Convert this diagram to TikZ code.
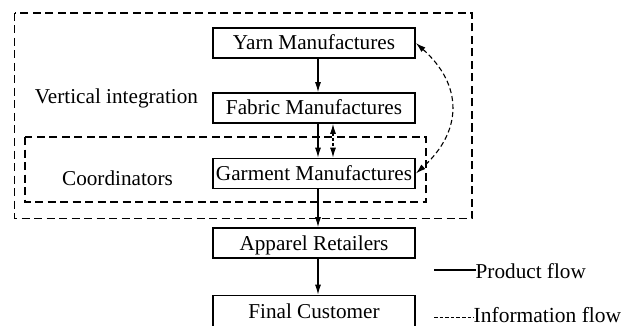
\documentclass[tikz,border=0pt]{standalone}
\usepackage{fontspec}
\setmainfont{Liberation Serif}
\usetikzlibrary{arrows.meta}
\begin{document}
\begin{tikzpicture}[x=1pt,y=-1pt,
  font=\fontsize{21.2}{24}\selectfont,
  stagebox/.style={draw,line width=1.7pt,minimum width=202pt,minimum height=30pt,
    inner sep=0pt,text height=14pt,text depth=0pt},
  groupframe/.style={draw,line width=1.4pt,dash pattern=on 8pt off 4.5pt},
  tip/.style={-{Latex[length=10pt,width=6pt]}},
  product/.style={tip,line width=1.1pt},
  info/.style={line width=1.1pt,dash pattern=on 5pt off 3pt,
    {Latex[length=10pt,width=6pt]}-{Latex[length=10pt,width=6pt]}},
  label/.style={inner sep=0pt,anchor=base}]
\useasboundingbox (0,0) rectangle (634,326);
\clip (0,0) rectangle (634,326);

% grouping frames
\draw[groupframe] (14.5,13) rectangle (472,218.5);
\draw[groupframe] (25,137) rectangle (426,202);

% supply chain stages
\node[stagebox] (yarn)    at (314,43)    {Yarn Manufactures};
\node[stagebox] (fabric)  at (314,108)   {Fabric Manufactures};
\node[stagebox] (garment) at (314,173.5) {Garment Manufactures};
\node[stagebox] (retail)  at (314,243)   {Apparel Retailers};
\node[stagebox,minimum height=32pt] (customer) at (314,311.5) {Final Customer};

% group labels
\node[label] (vi)    at (116.5,104) {Vertical integration};
\node[label] (coord) at (117.5,185) {Coordinators};

% product flow
\draw[product] ([xshift=4pt]yarn.south)    -- ([xshift=4pt]fabric.north);
\draw[product] ([xshift=4pt]fabric.south)  -- ([xshift=4pt]garment.north);
\draw[product] ([xshift=4pt]garment.south) -- ([xshift=4pt]retail.north);
\draw[product] ([xshift=4pt]retail.south)  -- ([xshift=4pt]customer.north);

% information flow
\draw[info,dash pattern=on 3pt off 2pt] ([xshift=19pt]fabric.south) -- ([xshift=19pt]garment.north);
\draw[info] (yarn.east) .. controls (463,85) and (463,131) .. (garment.east);

% legend
\coordinate (ps) at (434,270);
\coordinate (is) at (434,317);
\node[inner sep=0pt,anchor=base west] (pl) at (475.5,278) {Product flow};
\node[inner sep=0pt,anchor=base west,font=\fontsize{21.5}{24}\selectfont] (il) at (473.5,322.5) {Information flow};
\draw[line width=1.5pt] (ps) -- (ps -| pl.west);
\draw[line width=1pt,dash pattern=on 3.6pt off 2pt] (is) -- (is -| il.west);
\end{tikzpicture}
\end{document}
